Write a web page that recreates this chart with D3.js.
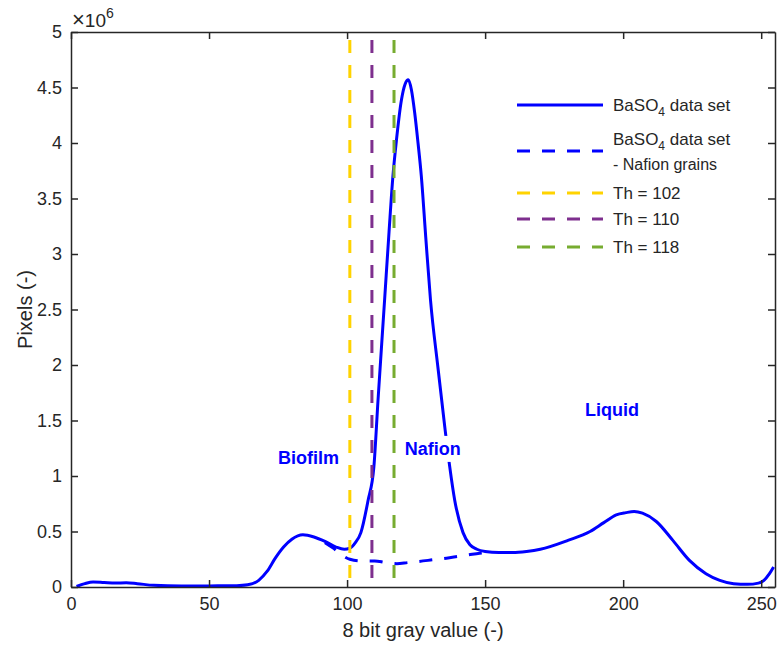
<!DOCTYPE html>
<html><head><meta charset="utf-8">
<script src="https://cdn.jsdelivr.net/npm/d3@7"></script>
<style>body{margin:0;background:#fff;} text{font-family:Arial,"Liberation Sans",Helvetica,sans-serif;}</style>
</head><body>
<svg id="c" width="778" height="645"></svg>
<script>
// ---- data ----
const solidX = [2,5,8,12,16,20,24,30,40,50,60,64,68,71,74,77,80,84,88,92,96,99,101,103,105,107.6,109.7,111.2,113.6,115.2,116.6,117.9,119.7,121,122.2,123.3,124.5,125.7,126.9,128.5,130.2,132.9,135.4,137.2,139,142,144.5,147,150,155,160,165,170,180,188,193,197.5,201,204,207,212,218,224,230,235,240,245,249,251,253,254.5];
const solidY = [0.005,0.03,0.045,0.04,0.035,0.038,0.03,0.015,0.01,0.01,0.012,0.02,0.06,0.14,0.26,0.36,0.43,0.47,0.45,0.41,0.36,0.34,0.35,0.40,0.49,0.78,1.08,1.68,2.59,3.2,3.7,4.03,4.39,4.53,4.57,4.48,4.27,4.0,3.7,3.15,2.59,1.98,1.44,1.08,0.78,0.49,0.38,0.34,0.32,0.31,0.31,0.32,0.34,0.42,0.50,0.58,0.65,0.67,0.68,0.665,0.59,0.42,0.24,0.12,0.06,0.03,0.024,0.035,0.06,0.12,0.18];
const dashedX = [92,95,98,101,105,110,114,118,122,126,131,136,140,144,148,151];
const dashedY = [0.40,0.35,0.29,0.25,0.235,0.235,0.22,0.21,0.22,0.23,0.245,0.26,0.275,0.29,0.305,0.31];
const thresholdPos = [101,109,117];
const thresholdLabels = ["Th = 102","Th = 110","Th = 118"];
const thresholdColors = ["#FFD300","#7E2F8E","#77AC30"];
const xTicks = [0,50,100,150,200,250];
const yTicks = [0,0.5,1,1.5,2,2.5,3,3.5,4,4.5,5];
const regionLabels = ["Biofilm","Nafion","Liquid"];
const regionX = [86,131,196];
const regionY = [1.11,1.19,1.54];

// ---- layout ----
const svg = d3.select("#c");
const L=71, R=775, T=32, B=587;
const x = d3.scaleLinear().domain([0,255]).range([L,R]);
const y = d3.scaleLinear().domain([0,5]).range([B,T]);
const axisCol = "#262626";

const plot = svg.append("g");
svg.append("clipPath").attr("id","clp").append("rect").attr("x",L).attr("y",T).attr("width",R-L).attr("height",B-T);

const line = d3.line().x(d=>x(d[0])).y(d=>y(d[1])).curve(d3.curveMonotoneX);
const solid = solidX.map((v,i)=>[v,solidY[i]]);
const dashed = dashedX.map((v,i)=>[v,dashedY[i]]);

plot.append("path").attr("d",line(solid)).attr("fill","none").attr("stroke","#0000FF").attr("stroke-width",3).attr("clip-path","url(#clp)");
plot.append("path").attr("d",line(dashed)).attr("fill","none").attr("stroke","#0000FF").attr("stroke-width",3).attr("stroke-dasharray","13,12");

thresholdPos.forEach((t,i)=>{
  plot.append("line").attr("x1",x(t)).attr("x2",x(t)).attr("y1",y(5)+8).attr("y2",y(0))
    .attr("stroke",thresholdColors[i]).attr("stroke-width",3).attr("stroke-dasharray","13,12");
});

// region labels
regionLabels.forEach((s,i)=>{
  const t = plot.append("text").attr("x",x(regionX[i])).attr("y",y(regionY[i])).attr("text-anchor","middle")
    .attr("font-size",18).attr("font-weight","bold").attr("fill","#0000FF").text(s);
  if(s==="Nafion"){
    const bb = t.node().getBBox();
    plot.append("rect").attr("x",bb.x-3).attr("y",bb.y-3).attr("width",bb.width+6).attr("height",bb.height+6).attr("fill","#fff");
    t.raise();
  }
});

// axes box
const ax = svg.append("g");
const xAxisB = d3.axisBottom(x).tickValues(xTicks).tickSizeInner(-7).tickSizeOuter(0).tickPadding(10).tickFormat(d3.format("d"));
const xAxisT = d3.axisTop(x).tickValues(xTicks).tickSizeInner(-7).tickSizeOuter(0).tickFormat("");
const yAxisL = d3.axisLeft(y).tickValues(yTicks).tickSizeInner(-7).tickSizeOuter(0).tickPadding(9).tickFormat(d=>String(d));
const yAxisR = d3.axisRight(y).tickValues(yTicks).tickSizeInner(-7).tickSizeOuter(0).tickFormat("");
const gB = ax.append("g").attr("transform",`translate(0,${B})`).call(xAxisB);
const gT = ax.append("g").attr("transform",`translate(0,${T})`).call(xAxisT);
const gL = ax.append("g").attr("transform",`translate(${L},0)`).call(yAxisL);
const gR = ax.append("g").attr("transform",`translate(${R},0)`).call(yAxisR);
[gB,gT,gL,gR].forEach(g=>{
  g.select(".domain").attr("stroke",axisCol).attr("stroke-width",1.5);
  g.selectAll(".tick line").attr("stroke",axisCol).attr("stroke-width",1.5);
  g.selectAll(".tick text").attr("fill",axisCol).attr("font-size",18).attr("font-family","Arial, Liberation Sans, sans-serif");
});
gB.selectAll(".tick text").attr("dy","0.71em");

// exponent
const ex = svg.append("text").attr("x",L+1).attr("y",27).attr("font-size",19).attr("fill",axisCol);
ex.append("tspan").attr("font-size",22).text("\u00D7");
ex.append("tspan").text("10");
ex.append("tspan").attr("font-size",14).attr("dy",-9).text("6");

// axis labels
svg.append("text").attr("x",(L+R)/2).attr("y",637).attr("text-anchor","middle").attr("font-size",20).attr("fill",axisCol).text("8 bit gray value (-)");
svg.append("text").attr("transform",`translate(32,${(T+B)/2}) rotate(-90)`).attr("text-anchor","middle").attr("font-size",20).attr("fill",axisCol).text("Pixels (-)");

// legend
const lg = svg.append("g");
const lx1=517, lx2=603, tx=613;
function legLine(yy,col,dash){
  const l = lg.append("line").attr("x1",lx1).attr("x2",lx2).attr("y1",yy).attr("y2",yy).attr("stroke",col).attr("stroke-width",3);
  if(dash) l.attr("stroke-dasharray","13,12");
}
legLine(105,"#0000FF",false);
const t1 = lg.append("text").attr("x",tx).attr("y",111).attr("font-size",17).attr("fill",axisCol);
t1.append("tspan").text("BaSO");
t1.append("tspan").attr("font-size",12).attr("dy",5).text("4");
t1.append("tspan").attr("dy",-5).text(" data set");
legLine(151,"#0000FF",true);
const t2 = lg.append("text").attr("x",tx).attr("y",145).attr("font-size",17).attr("fill",axisCol);
t2.append("tspan").text("BaSO");
t2.append("tspan").attr("font-size",12).attr("dy",5).text("4");
t2.append("tspan").attr("dy",-5).text(" data set");
lg.append("text").attr("x",tx).attr("y",170).attr("font-size",16).attr("fill",axisCol).text("- Nafion grains");
const ly=[193,219,247];
thresholdLabels.forEach((s,i)=>{
  legLine(ly[i],thresholdColors[i],true);
  lg.append("text").attr("x",tx).attr("y",ly[i]+6).attr("font-size",17).attr("fill",axisCol).text(s);
});
</script>
</body></html>
